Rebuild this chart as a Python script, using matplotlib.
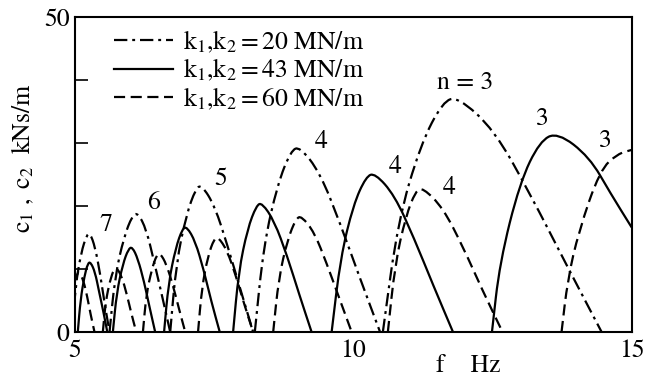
import matplotlib
matplotlib.use("Agg")
import matplotlib.pyplot as plt
from matplotlib.path import Path
from matplotlib.patches import PathPatch

plt.rcParams['font.family'] = ['STIXGeneral', 'DejaVu Serif']
plt.rcParams['mathtext.fontset'] = 'stix'

# lobes for k1,k2 = 20 MN/m (dash-dot), modes n = 3..7
n_20 = [3, 4, 5, 6, 7]
f_20 = [
    [10.53, 10.80, 11.21, 11.61, 11.88, 12.53, 13.17, 13.82, 14.46],
    [8.23, 8.39, 8.64, 8.88, 9.04, 9.40, 9.76, 10.12, 10.48],
    [6.71, 6.82, 7.00, 7.17, 7.28, 7.51, 7.74, 7.97, 8.20],
    [5.62, 5.72, 5.88, 6.03, 6.13, 6.28, 6.42, 6.57, 6.71],
    [4.95, 5.01, 5.11, 5.21, 5.27, 5.36, 5.45, 5.53, 5.62],
]
c_20 = [
    [0, 17.5, 29.8, 36.6, 37.3, 32.1, 22.0, 10.8, 0],
    [0, 13.8, 23.5, 28.8, 29.4, 25.3, 17.3, 8.5, 0],
    [0, 11.0, 18.6, 22.8, 23.3, 20.0, 13.7, 6.8, 0],
    [0, 8.9, 15.1, 18.5, 18.9, 16.3, 11.2, 5.5, 0],
    [0, 7.4, 12.6, 15.4, 15.7, 13.5, 9.3, 4.6, 0],
]

# lobes for k1,k2 = 43 MN/m (solid), modes n = 3..8
n_43 = [3, 4, 5, 6, 7, 8]
f_43 = [
    [12.49, 12.63, 12.99, 13.35, 13.67, 14.24, 14.62, 15.00],
    [9.61, 9.77, 10.00, 10.23, 10.39, 10.74, 11.09, 11.44, 11.79],
    [7.84, 7.94, 8.10, 8.26, 8.36, 8.58, 8.81, 9.03, 9.25],
    [6.60, 6.68, 6.81, 6.93, 7.01, 7.16, 7.31, 7.45, 7.60],
    [5.68, 5.75, 5.86, 5.96, 6.03, 6.13, 6.24, 6.34, 6.44],
    [5.05, 5.10, 5.17, 5.23, 5.28, 5.36, 5.43, 5.51, 5.58],
]
c_43 = [
    [0, 11.0, 23.7, 30.3, 31.7, 27.8, 22.0, 16.6],
    [0, 11.8, 20.2, 24.7, 25.2, 21.7, 14.9, 7.3, 0],
    [0, 9.6, 16.4, 20.1, 20.5, 17.6, 12.1, 5.9, 0],
    [0, 7.8, 13.4, 16.4, 16.7, 14.4, 9.9, 4.8, 0],
    [0, 6.3, 10.8, 13.2, 13.5, 11.6, 8.0, 3.9, 0],
    [0, 5.2, 8.9, 10.9, 11.1, 9.5, 6.5, 3.2, 0],
]

# lobes for k1,k2 = 60 MN/m (dashed), modes n = 3..9
n_60 = [3, 4, 5, 6, 7, 8, 9]
f_60 = [
    [13.74, 13.85, 14.05, 14.43, 14.75, 15.00],
    [10.62, 10.75, 10.94, 11.12, 11.25, 11.61, 11.97, 12.32, 12.68],
    [8.56, 8.66, 8.82, 8.97, 9.07, 9.30, 9.52, 9.75, 9.97],
    [7.21, 7.28, 7.39, 7.50, 7.57, 7.73, 7.89, 8.04, 8.20],
    [6.22, 6.28, 6.38, 6.47, 6.53, 6.64, 6.76, 6.87, 6.98],
    [5.50, 5.55, 5.63, 5.70, 5.75, 5.84, 5.93, 6.01, 6.10],
    [4.88, 4.92, 4.98, 5.04, 5.08, 5.15, 5.22, 5.28, 5.35],
]
c_60 = [
    [0, 8.3, 16.0, 25.7, 28.3, 28.9],
    [0, 10.8, 18.3, 22.4, 22.9, 19.7, 13.5, 6.6, 0],
    [0, 8.6, 14.7, 18.0, 18.4, 15.8, 10.9, 5.3, 0],
    [0, 7.1, 12.1, 14.8, 15.1, 13.0, 8.9, 4.4, 0],
    [0, 5.9, 10.0, 12.3, 12.5, 10.8, 7.4, 3.6, 0],
    [0, 4.8, 8.2, 10.0, 10.2, 8.8, 6.0, 3.0, 0],
    [0, 4.5, 7.6, 9.3, 9.5, 8.2, 5.6, 2.8, 0],
]

# mode number labels: (text, f, c)
mode_labels = [
    ('n = 3', 12.0, 39.6), ('3', 13.40, 33.8), ('3', 14.52, 30.3),
    ('4', 9.43, 30.1), ('4', 10.76, 26.2), ('4', 11.73, 22.8),
    ('5', 7.62, 24.3), ('6', 6.42, 20.5), ('7', 5.56, 17.0),
]

dashdot = (0, (6, 2.2, 1.3, 2.2))
dashed = (0, (5, 2.5))
FS = 18.5


def smooth_path(fx, cy):
    # read points used as control points of a quadratic B-spline (rounded corners)
    pts = list(zip(fx, cy))
    verts = [pts[0]]
    codes = [Path.MOVETO]
    mid = lambda p, q: ((p[0] + q[0]) / 2, (p[1] + q[1]) / 2)
    verts.append(mid(pts[0], pts[1]))
    codes.append(Path.LINETO)
    for i in range(1, len(pts) - 1):
        verts += [pts[i], mid(pts[i], pts[i + 1])]
        codes += [Path.CURVE3, Path.CURVE3]
    verts.append(pts[-1])
    codes.append(Path.LINETO)
    return Path(verts, codes)


fig = plt.figure(figsize=(6.58, 3.81), dpi=100)
ax = fig.add_axes([0.114, 0.1286, 0.846, 0.8268])

families = [
    (f_20, c_20, dashdot, r'$\mathrm{k_1{,}k_2 = 20\ MN/m}$'),
    (f_43, c_43, '-', r'$\mathrm{k_1{,}k_2 = 43\ MN/m}$'),
    (f_60, c_60, dashed, r'$\mathrm{k_1{,}k_2 = 60\ MN/m}$'),
]
for fs, cs, ls, lab in families:
    for fx, cy in zip(fs, cs):
        ax.add_patch(PathPatch(smooth_path(fx, cy), fill=False, edgecolor='black',
                               lw=1.6, linestyle=ls, capstyle='butt'))
    # legend proxy
    ax.plot([], [], color='black', lw=1.6, linestyle=ls, label=lab)

for txt, fx, cy in mode_labels:
    ax.text(fx, cy, txt, fontsize=FS, ha='center', va='center')

ax.set_xlim(5, 15)
ax.set_ylim(0, 50)
ax.set_xticks([5, 10, 15])
ax.set_yticks([0, 10, 20, 30, 40, 50])
ax.set_yticklabels(['0', '', '', '', '', '50'])
ax.tick_params(axis='x', length=0, pad=5, labelsize=FS)
ax.tick_params(axis='y', direction='in', length=9, width=1.2, pad=4, labelsize=FS)
for sp in ax.spines.values():
    sp.set_linewidth(1.5)

fig.text(468 / 658, 1 - 366 / 381, 'f    Hz', fontsize=FS, ha='center', va='center')
fig.text(23 / 658, 1 - 158 / 381, r'$\mathrm{c_1\ ,\ c_2\ \ kNs/m}$', fontsize=FS,
         rotation=90, ha='center', va='center')

ax.legend(loc='upper left', bbox_to_anchor=(0.07, 0.962), frameon=False,
          fontsize=FS, handlelength=2.3, handletextpad=0.4, labelspacing=0.08,
          borderpad=0, borderaxespad=0)

fig.savefig('out.png', dpi=100)
